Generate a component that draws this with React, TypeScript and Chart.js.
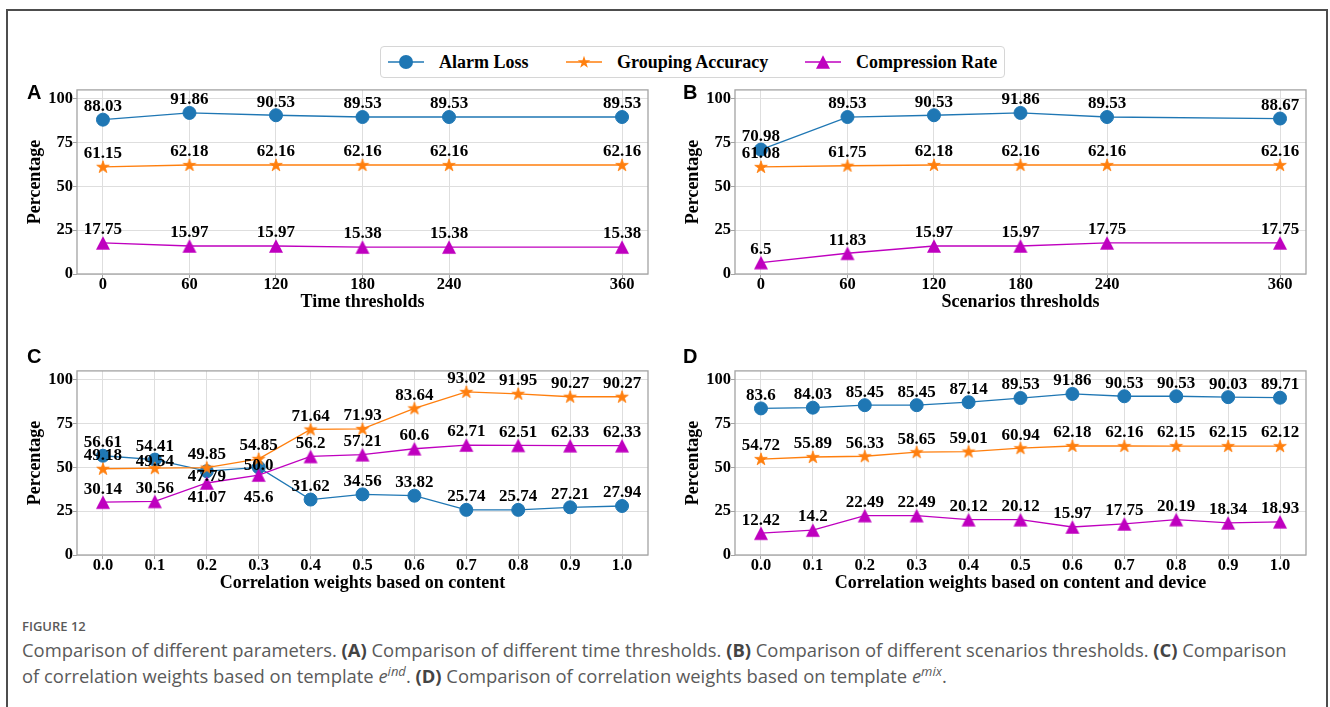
import React, { useEffect, useRef } from "react";
import { Chart, registerables } from "chart.js";

Chart.register(...registerables);

// ---------------- data ----------------
const seriesNames = ["Alarm Loss", "Grouping Accuracy", "Compression Rate"];

const timeThresholds = [0, 60, 120, 180, 240, 360];
const timeAlarmLoss = [88.03, 91.86, 90.53, 89.53, 89.53, 89.53];
const timeGroupingAccuracy = [61.15, 62.18, 62.16, 62.16, 62.16, 62.16];
const timeCompressionRate = [17.75, 15.97, 15.97, 15.38, 15.38, 15.38];

const scenarioThresholds = [0, 60, 120, 180, 240, 360];
const scenarioAlarmLoss = [70.98, 89.53, 90.53, 91.86, 89.53, 88.67];
const scenarioGroupingAccuracy = [61.08, 61.75, 62.18, 62.16, 62.16, 62.16];
const scenarioCompressionRate = [6.5, 11.83, 15.97, 15.97, 17.75, 17.75];

const contentWeights = [0.0, 0.1, 0.2, 0.3, 0.4, 0.5, 0.6, 0.7, 0.8, 0.9, 1.0];
const contentAlarmLoss = [56.61, 54.41, 47.79, 50.0, 31.62, 34.56, 33.82, 25.74, 25.74, 27.21, 27.94];
const contentGroupingAccuracy = [49.18, 49.54, 49.85, 54.85, 71.64, 71.93, 83.64, 93.02, 91.95, 90.27, 90.27];
const contentCompressionRate = [30.14, 30.56, 41.07, 45.6, 56.2, 57.21, 60.6, 62.71, 62.51, 62.33, 62.33];

const deviceWeights = [0.0, 0.1, 0.2, 0.3, 0.4, 0.5, 0.6, 0.7, 0.8, 0.9, 1.0];
const deviceAlarmLoss = [83.6, 84.03, 85.45, 85.45, 87.14, 89.53, 91.86, 90.53, 90.53, 90.03, 89.71];
const deviceGroupingAccuracy = [54.72, 55.89, 56.33, 58.65, 59.01, 60.94, 62.18, 62.16, 62.15, 62.15, 62.12];
const deviceCompressionRate = [12.42, 14.2, 22.49, 22.49, 20.12, 20.12, 15.97, 17.75, 20.19, 18.34, 18.93];

const yTicks = [0, 25, 50, 75, 100];
const thresholdTicks = [0, 60, 120, 180, 240, 360];
const weightTicks = [0.0, 0.1, 0.2, 0.3, 0.4, 0.5, 0.6, 0.7, 0.8, 0.9, 1.0];

// ---------------- styles ----------------
const COLORS = ["#1f77b4", "#ff7f0e", "#bf00bf"];
const SERIF = '"Liberation Serif", "Times New Roman", serif';
const DEFAULT_LABEL_DY = -13;
// per-panel label nudges: [seriesIndex][pointIndex] -> dy (px)
const contentLabelDy: Record<number, Record<number, number>> = {
  0: { 2: 5, 3: -2 },
  1: { 1: -6.5 },
  2: { 2: 15, 3: 23 },
};

function fmtValue(v: number): string {
  return Number.isInteger(v) ? v.toFixed(1) : String(v);
}

function makeStar(color: string): HTMLCanvasElement {
  const c = document.createElement("canvas");
  c.width = 16;
  c.height = 16;
  const ctx = c.getContext("2d")!;
  const R = 6.6;
  const r = R * 0.382;
  ctx.beginPath();
  for (let k = 0; k < 10; k++) {
    const rad = -Math.PI / 2 + (k * Math.PI) / 5;
    const rr = k % 2 === 0 ? R : r;
    const x = 8 + rr * Math.cos(rad);
    const y = 8.4 + rr * Math.sin(rad);
    if (k === 0) ctx.moveTo(x, y);
    else ctx.lineTo(x, y);
  }
  ctx.closePath();
  ctx.fillStyle = color;
  ctx.fill();
  ctx.strokeStyle = color;
  ctx.lineWidth = 0.8;
  ctx.stroke();
  return c;
}

function makeTriangle(color: string): HTMLCanvasElement {
  const c = document.createElement("canvas");
  c.width = 16;
  c.height = 16;
  const ctx = c.getContext("2d")!;
  ctx.beginPath();
  ctx.moveTo(8, 1.3);
  ctx.lineTo(15, 14.7);
  ctx.lineTo(1, 14.7);
  ctx.closePath();
  ctx.fillStyle = color;
  ctx.fill();
  return c;
}

type PanelCfg = {
  xs: number[];
  series: number[][];
  xTicks: number[];
  xMin: number;
  xMax: number;
  xFmt: (v: number) => string;
  xTitle: string;
  labelDy?: Record<number, Record<number, number>>;
  left: number;
  top: number;
  width: number;
  padRight: number;
};

const PANEL_H = 240;

function Panel({ cfg }: { cfg: PanelCfg }) {
  const ref = useRef<HTMLCanvasElement>(null);
  useEffect(() => {
    const markers: any[] = ["circle", makeStar(COLORS[1]), makeTriangle(COLORS[2])];
    const labelPlugin = {
      id: "valueLabels",
      afterDatasetsDraw(chart: any) {
        const ctx = chart.ctx;
        ctx.save();
        ctx.font = `bold 17px ${SERIF}`;
        ctx.fillStyle = "#000";
        ctx.textAlign = "center";
        ctx.textBaseline = "middle";
        chart.data.datasets.forEach((ds: any, di: number) => {
          const meta = chart.getDatasetMeta(di);
          meta.data.forEach((pt: any, i: number) => {
            const v = ds.data[i].y;
            const over = cfg.labelDy && cfg.labelDy[di] && cfg.labelDy[di][i];
            const dy = over !== undefined && over !== 0 ? over : DEFAULT_LABEL_DY;
            ctx.fillText(fmtValue(v), pt.x, pt.y + dy);
          });
        });
        ctx.restore();
      },
    };
    const framePlugin = {
      id: "frame",
      beforeDatasetsDraw(chart: any) {
        const { ctx, chartArea: a } = chart;
        ctx.save();
        ctx.strokeStyle = "#a3a3a3";
        ctx.lineWidth = 1.3;
        ctx.strokeRect(a.left, a.top, a.right - a.left, a.bottom - a.top);
        ctx.restore();
      },
    };
    const chart = new Chart(ref.current!, {
      type: "line",
      data: {
        datasets: cfg.series.map((ys, k) => ({
          label: seriesNames[k],
          data: cfg.xs.map((x, i) => ({ x, y: ys[i] })),
          borderColor: COLORS[k],
          backgroundColor: COLORS[k],
          borderWidth: 1.3,
          pointStyle: markers[k],
          pointRadius: 6.5,
          pointHoverRadius: 6.5,
          pointBorderWidth: 1,
          pointBorderColor: COLORS[k],
          pointBackgroundColor: COLORS[k],
          tension: 0,
          order: 2 - k,
          clip: false,
        })),
      },
      options: {
        animation: false,
        responsive: false,
        devicePixelRatio: 1,
        events: [],
        layout: { padding: { left: 0, top: 6, right: cfg.padRight, bottom: 0 } },
        plugins: { legend: { display: false }, tooltip: { enabled: false } },
        scales: {
          x: {
            type: "linear",
            min: cfg.xMin,
            max: cfg.xMax,
            afterBuildTicks: (s: any) => {
              s.ticks = cfg.xTicks.map((v) => ({ value: v }));
            },
            afterFit: (s: any) => {
              s.height = 46;
            },
            ticks: {
              autoSkip: false,
              maxRotation: 0,
              padding: -2,
              color: "#000",
              font: { family: SERIF, weight: "bold", size: 16.5, lineHeight: 1 },
              callback: (v: any) => cfg.xFmt(Number(v)),
            },
            grid: { color: "#dedede", tickColor: "#a3a3a3", tickLength: 4, lineWidth: 1 },
            border: { display: false },
            title: {
              display: true,
              text: cfg.xTitle,
              color: "#000",
              font: { family: SERIF, weight: "bold", size: 18 },
              padding: { top: 0, bottom: 7 },
            },
          },
          y: {
            type: "linear",
            min: 0,
            max: 105,
            afterBuildTicks: (s: any) => {
              s.ticks = yTicks.map((v) => ({ value: v }));
            },
            afterFit: (s: any) => {
              s.width = 77;
            },
            ticks: {
              padding: 0,
              color: "#000",
              font: { family: SERIF, weight: "bold", size: 16.5 },
              callback: (v: any) => String(v),
            },
            grid: { color: "#dedede", tickColor: "#a3a3a3", tickLength: 4, lineWidth: 1 },
            border: { display: false },
            title: {
              display: true,
              text: "Percentage",
              color: "#000",
              font: { family: SERIF, weight: "bold", size: 18 },
              padding: { top: 25, bottom: 0 },
            },
          },
        },
      },
      plugins: [framePlugin, labelPlugin],
    } as any);
    return () => chart.destroy();
  }, []);
  return (
    <canvas
      ref={ref}
      width={cfg.width}
      height={PANEL_H}
      style={{ position: "absolute", left: cfg.left, top: cfg.top, width: cfg.width, height: PANEL_H }}
    />
  );
}

const fmtInt = (v: number) => String(Math.round(v));
const fmtOne = (v: number) => v.toFixed(1);

const panels: PanelCfg[] = [
  {
    xs: timeThresholds,
    series: [timeAlarmLoss, timeGroupingAccuracy, timeCompressionRate],
    xTicks: thresholdTicks,
    xMin: -18,
    xMax: 378,
    xFmt: fmtInt,
    xTitle: "Time thresholds",
    left: 0,
    top: 80,
    width: 665,
    padRight: 17,
  },
  {
    xs: scenarioThresholds,
    series: [scenarioAlarmLoss, scenarioGroupingAccuracy, scenarioCompressionRate],
    xTicks: thresholdTicks,
    xMin: -18,
    xMax: 378,
    xFmt: fmtInt,
    xTitle: "Scenarios thresholds",
    left: 658,
    top: 80,
    width: 672,
    padRight: 24,
  },
  {
    xs: contentWeights,
    series: [contentAlarmLoss, contentGroupingAccuracy, contentCompressionRate],
    xTicks: weightTicks,
    xMin: -0.05,
    xMax: 1.05,
    xFmt: fmtOne,
    xTitle: "Correlation weights based on content",
    labelDy: contentLabelDy,
    left: 0,
    top: 361,
    width: 665,
    padRight: 17,
  },
  {
    xs: deviceWeights,
    series: [deviceAlarmLoss, deviceGroupingAccuracy, deviceCompressionRate],
    xTicks: weightTicks,
    xMin: -0.05,
    xMax: 1.05,
    xFmt: fmtOne,
    xTitle: "Correlation weights based on content and device",
    left: 658,
    top: 361,
    width: 672,
    padRight: 24,
  },
];

const panelLetters = [
  { t: "A", left: 27, top: 82 },
  { t: "B", left: 683, top: 82 },
  { t: "C", left: 27, top: 346 },
  { t: "D", left: 683, top: 346 },
];

function LegendHandle({ k }: { k: number }) {
  const c = COLORS[k];
  return (
    <svg width={36} height={20} style={{ display: "block" }}>
      <line x1={0} y1={10} x2={36} y2={10} stroke={c} strokeWidth={1.3} />
      {k === 0 && <circle cx={18} cy={10} r={7} fill={c} />}
      {k === 1 && (
        <polygon
          fill={c}
          points={Array.from({ length: 10 })
            .map((_, i) => {
              const rad = -Math.PI / 2 + (i * Math.PI) / 5;
              const rr = i % 2 === 0 ? 6.6 : 6.6 * 0.382;
              return `${18 + rr * Math.cos(rad)},${10.4 + rr * Math.sin(rad)}`;
            })
            .join(" ")}
        />
      )}
      {k === 2 && <polygon fill={c} points="18,3.3 25,16.7 11,16.7" />}
    </svg>
  );
}

const legendItems = [
  { k: 0, hx: 388, tx: 439 },
  { k: 1, hx: 566, tx: 617 },
  { k: 2, hx: 805, tx: 856 },
];

export default function App() {
  return (
    <div style={{ position: "absolute", left: 0, top: 0, width: 1330, height: 707, overflow: "hidden", background: "#fff" }}>
      <div
        style={{
          position: "absolute",
          left: 6,
          top: 9,
          width: 1322,
          height: 740,
          border: "2px solid #4d4d4d",
          boxSizing: "border-box",
        }}
      />
      {/* legend */}
      <div
        style={{
          position: "absolute",
          left: 380,
          top: 46,
          width: 625,
          height: 32,
          border: "1px solid #d6d6d6",
          borderRadius: 4,
          boxSizing: "border-box",
          background: "#fff",
        }}
      />
      {legendItems.map((it) => (
        <React.Fragment key={it.k}>
          <div style={{ position: "absolute", left: it.hx, top: 52 }}>
            <LegendHandle k={it.k} />
          </div>
          <div
            style={{
              position: "absolute",
              left: it.tx,
              top: 51,
              font: `bold 18px ${SERIF}`,
              lineHeight: "22px",
              color: "#000",
              whiteSpace: "nowrap",
            }}
          >
            {seriesNames[it.k]}
          </div>
        </React.Fragment>
      ))}
      {panels.map((p, i) => (
        <Panel key={i} cfg={p} />
      ))}
      {panelLetters.map((l) => (
        <div
          key={l.t}
          style={{
            position: "absolute",
            left: l.left,
            top: l.top,
            font: 'bold 20px "Liberation Sans", Arial, sans-serif',
            lineHeight: "20px",
            color: "#000",
          }}
        >
          {l.t}
        </div>
      ))}
      {/* caption */}
      <div
        style={{
          position: "absolute",
          left: 22,
          top: 617,
          font: '600 13px "Open Sans", sans-serif',
          color: "#5a5a5a",
          lineHeight: "18px",
        }}
      >
        FIGURE 12
      </div>
      <div
        style={{
          position: "absolute",
          left: 22,
          top: 637,
          font: '18.4px "Open Sans", sans-serif',
          color: "#5a5a5a",
          lineHeight: "26px",
          whiteSpace: "nowrap",
        }}
      >
        Comparison of different parameters. <b style={{ color: "#444" }}>(A)</b> Comparison of different time
        thresholds. <b style={{ color: "#444" }}>(B)</b> Comparison of different scenarios thresholds.{" "}
        <b style={{ color: "#444" }}>(C)</b> Comparison
        <br />
        of correlation weights based on template <i>e</i>
        <sup style={{ fontSize: 13, lineHeight: 0 }}>
          <i>ind</i>
        </sup>
        . <b style={{ color: "#444" }}>(D)</b> Comparison of correlation weights based on template <i>e</i>
        <sup style={{ fontSize: 13, lineHeight: 0 }}>
          <i>mix</i>
        </sup>
        .
      </div>
    </div>
  );
}
